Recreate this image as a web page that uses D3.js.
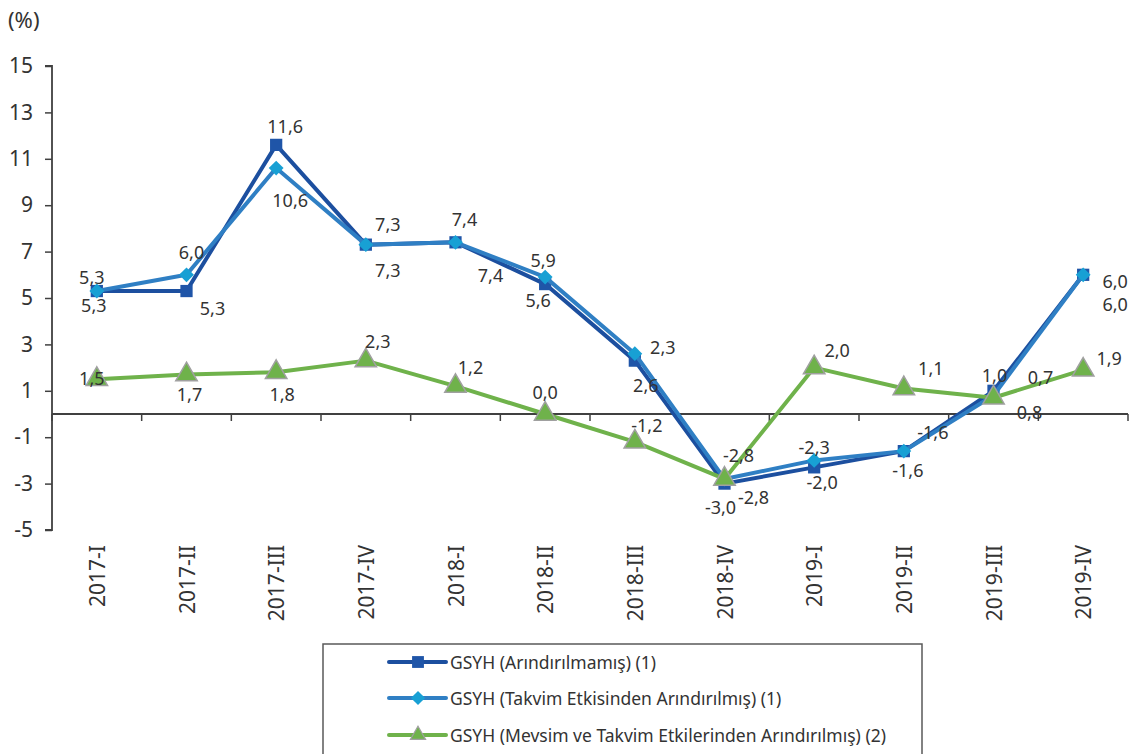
<!DOCTYPE html>
<html>
<head>
<meta charset="utf-8">
<script src="https://cdn.jsdelivr.net/npm/d3@7"></script>
<style>
  body { margin: 0; background: #fff; }
  svg text { font-family: "Noto Sans", sans-serif; fill: #333; }
</style>
</head>
<body>
<div id="chart-area"></div>
<script>
// quarters on the x axis
var quarters = ['2017-I', '2017-II', '2017-III', '2017-IV', '2018-I', '2018-II',
                '2018-III', '2018-IV', '2019-I', '2019-II', '2019-III', '2019-IV'];

// GSYH (Arındırılmamış) (1)
var unadjusted = [5.3, 5.3, 11.6, 7.3, 7.4, 5.6, 2.3, -3.0, -2.3, -1.6, 1.0, 6.0];
// GSYH (Takvim Etkisinden Arındırılmış) (1)
var calendarAdj = [5.3, 6.0, 10.6, 7.3, 7.4, 5.9, 2.6, -2.8, -2.0, -1.6, 0.8, 6.0];
// GSYH (Mevsim ve Takvim Etkilerinden Arındırılmış) (2)
var seasonalAdj = [1.5, 1.7, 1.8, 2.3, 1.2, 0.0, -1.2, -2.8, 2.0, 1.1, 0.7, 1.9];

var yTicks = [-5, -3, -1, 1, 3, 5, 7, 9, 11, 13, 15];

var seriesNames = ['GSYH (Arındırılmamış) (1)',
                   'GSYH (Takvim Etkisinden Arındırılmış) (1)',
                   'GSYH (Mevsim ve Takvim Etkilerinden Arındırılmış) (2)'];

// where each data label sits, relative to its point (layout only)
var labelShift = [
    [[-3, 14], [26, 17], [9, -19], [22, 25], [35, 33], [-7, 16], [28, -14], [-4, 23], [0, -20], [4, 19], [1, -16], [32, 29]],
    [[-5, -14], [5, -23], [14, 32], [22, -21], [9, -23], [-2, -17], [11, 31], [29, 18], [8, 22], [29, -19], [36, 17], [32, 6]],
    [[-5, -1], [3, 19], [6, 22], [12, -20], [15, -19], [0, -22], [12, -17], [14, -24], [23, -18], [27, -20], [47, -21], [26, -12]]
];

var series = [
    {name: seriesNames[0], values: unadjusted, line: '#1c4f9f', fill: '#1f55a8', stroke: 'none', symbol: d3.symbolSquare, size: 150, rot: 0},
    {name: seriesNames[1], values: calendarAdj, line: '#2f7fc4', fill: '#18a0d4', stroke: 'none', symbol: d3.symbolSquare, size: 110, rot: 45},
    {name: seriesNames[2], values: seasonalAdj, line: '#6fb24b', fill: '#6fb24b', stroke: '#a0a0a0', symbol: d3.symbolTriangle, size: 200, rot: 0}
];

var W = 1135, H = 754;
var mLeft = 52, mRight = 1128, mTop = 66, mBottom = 530;

var svg = d3.select('#chart-area').append('svg')
    .attr('width', W)
    .attr('height', H);

var x = d3.scaleBand().domain(quarters).range([mLeft, mRight]);
var y = d3.scaleLinear().domain([-5, 15]).range([mBottom, mTop]);

var locale = d3.formatLocale({decimal: ',', thousands: '.', grouping: [3], currency: ['', ''], minus: '-'});
var fmt = locale.format('.1f');

function cx(i) { return x(quarters[i]) + x.bandwidth() / 2; }

// unit
svg.append('text')
    .attr('x', 8)
    .attr('y', 19)
    .attr('dominant-baseline', 'central')
    .style('font-size', '22px')
    .text('(%)');

// y axis
var yAxis = svg.append('g')
    .attr('transform', 'translate(' + mLeft + ',0)')
    .call(d3.axisLeft(y).tickValues(yTicks).tickSize(7).tickPadding(12).tickFormat(locale.format('d')));
yAxis.select('.domain').attr('stroke', '#404040').attr('stroke-width', 1.8).attr('d', 'M-7,' + mTop + 'H0V' + mBottom + 'H-7');
yAxis.selectAll('.tick line').attr('stroke', '#404040').attr('stroke-width', 1.5);
yAxis.selectAll('.tick text').style('font-size', '21px').style('font-family', '"Noto Sans", sans-serif').attr('fill', '#333');

// x axis line at zero, ticks between categories
var y0 = y(0);
svg.append('line')
    .attr('x1', mLeft).attr('x2', mRight)
    .attr('y1', y0).attr('y2', y0)
    .attr('stroke', '#404040').attr('stroke-width', 1.8);

var bounds = quarters.map(function(q) { return x(q); }).concat([mRight]);
svg.selectAll('.xtick').data(bounds).enter().append('line')
    .attr('class', 'xtick')
    .attr('x1', function(d) { return d; }).attr('x2', function(d) { return d; })
    .attr('y1', y0).attr('y2', y0 + 7)
    .attr('stroke', '#404040').attr('stroke-width', 1.5);

// x labels (rotated)
svg.selectAll('.xlabel').data(quarters).enter().append('text')
    .attr('class', 'xlabel')
    .attr('transform', function(d, i) { return 'translate(' + cx(i) + ',545) rotate(-90)'; })
    .attr('text-anchor', 'end')
    .attr('dominant-baseline', 'central')
    .style('font-size', '21px')
    .text(function(d) { return d; });

// lines + markers
var line = d3.line()
    .x(function(d, i) { return cx(i); })
    .y(function(d) { return y(d); });

series.forEach(function(s) {
    svg.append('path')
        .datum(s.values)
        .attr('d', line)
        .attr('fill', 'none')
        .attr('stroke', s.line)
        .attr('stroke-width', 4)
        .attr('stroke-linejoin', 'round');

    svg.selectAll(null).data(s.values).enter().append('path')
        .attr('d', d3.symbol().type(s.symbol).size(s.size))
        .attr('transform', function(d, i) { return 'translate(' + cx(i) + ',' + y(d) + ') rotate(' + s.rot + ')'; })
        .attr('fill', s.fill)
        .attr('stroke', s.stroke)
        .attr('stroke-width', 1.5);
});

// data labels
series.forEach(function(s, k) {
    svg.selectAll(null).data(s.values).enter().append('text')
        .attr('x', function(d, i) { return cx(i) + labelShift[k][i][0]; })
        .attr('y', function(d, i) { return y(d) + labelShift[k][i][1]; })
        .attr('text-anchor', 'middle')
        .attr('dominant-baseline', 'central')
        .style('font-size', '18px')
        .text(function(d) { return fmt(d); });
});

// legend
var legend = svg.append('g');
legend.append('rect')
    .attr('x', 323).attr('y', 644)
    .attr('width', 599).attr('height', 130)
    .attr('fill', 'none')
    .attr('stroke', '#595959')
    .attr('stroke-width', 1.5);

var rowY = [662, 698, 735];
series.forEach(function(s, k) {
    var g = legend.append('g').attr('transform', 'translate(0,' + rowY[k] + ')');
    g.append('line')
        .attr('x1', 389).attr('x2', 446)
        .attr('stroke', s.line)
        .attr('stroke-width', 4)
        .attr('stroke-linecap', 'round');
    g.append('path')
        .attr('d', d3.symbol().type(s.symbol).size(k === 2 ? 100 : (k === 1 ? 100 : 140)))
        .attr('transform', 'translate(418,0) rotate(' + s.rot + ')')
        .attr('fill', s.fill)
        .attr('stroke', s.stroke)
        .attr('stroke-width', 1.2);
    g.append('text')
        .attr('x', 450)
        .attr('dominant-baseline', 'central')
        .style('font-size', '17.5px')
        .text(s.name);
});
</script>
</body>
</html>
